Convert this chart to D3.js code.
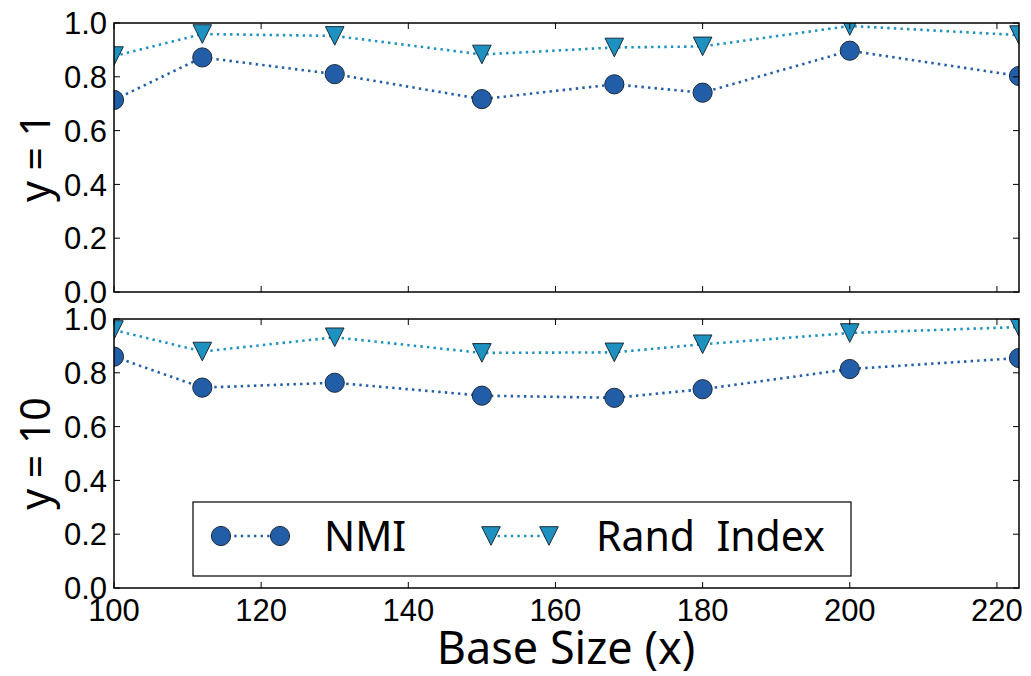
<!DOCTYPE html>
<html>
<head>
<meta charset="utf-8">
<script src="https://cdn.jsdelivr.net/npm/d3@7"></script>
<style>
  body { margin: 0; background: #fff; }
  svg { display: block; }
</style>
</head>
<body>
<svg id="chart" width="1031" height="676"></svg>
<script>
// data
const baseSizes = [100, 112, 130, 150, 168, 180, 200, 223];
const nmiY1   = [0.714, 0.872, 0.810, 0.717, 0.772, 0.741, 0.897, 0.803];
const randY1  = [0.877, 0.959, 0.952, 0.883, 0.909, 0.913, 0.989, 0.955];
const nmiY10  = [0.860, 0.745, 0.763, 0.715, 0.707, 0.739, 0.814, 0.855];
const randY10 = [0.959, 0.879, 0.932, 0.874, 0.876, 0.906, 0.948, 0.970];
const panelLabels = ["y = 1", "y = 10"];
const seriesNames = ["NMI", "Rand  Index"];
const xTicks = [100, 120, 140, 160, 180, 200, 220];
const yTicks = [0.0, 0.2, 0.4, 0.6, 0.8, 1.0];

const NMI_COLOR = "#225ea8";
const RAND_COLOR = "#1d91c0";
const EDGE = "#1d2b3a";
const TICK_FONT = "'Liberation Sans', Arial, sans-serif";
const LABEL_FONT = "'Noto Sans', sans-serif";

const left = 114, right = 1019;
const panels = [
    {top: 23, bottom: 292, nmi: nmiY1, rand: randY1, label: panelLabels[0]},
    {top: 319, bottom: 588, nmi: nmiY10, rand: randY10, label: panelLabels[1]}
];

const svg = d3.select("#chart");

const x = d3.scaleLinear().domain([100, 223]).range([left, right]);

const line = d3.line();

function drawMarker(g, kind, cx, cy) {
    if (kind === "circle") {
        g.append("circle")
            .attr("cx", cx).attr("cy", cy).attr("r", 9.6)
            .attr("fill", NMI_COLOR)
            .attr("stroke", EDGE).attr("stroke-width", 1);
    } else {
        // down-pointing triangle, about as wide as it is tall
        const s = 9.3;
        g.append("path")
            .attr("d", `M${cx - s},${cy - s}L${cx + s},${cy - s}L${cx},${cy + s}Z`)
            .attr("fill", RAND_COLOR)
            .attr("stroke", EDGE).attr("stroke-width", 1);
    }
}

panels.forEach((p, i) => {
    const y = d3.scaleLinear().domain([0, 1]).range([p.bottom, p.top]);
    const g = svg.append("g");

    const clipId = "clip" + i;
    svg.append("clipPath").attr("id", clipId)
        .append("rect")
        .attr("x", left).attr("y", p.top)
        .attr("width", right - left).attr("height", p.bottom - p.top);

    const plot = g.append("g").attr("clip-path", `url(#${clipId})`);

    const series = [
        {vals: p.nmi, color: NMI_COLOR, kind: "circle"},
        {vals: p.rand, color: RAND_COLOR, kind: "tri"}
    ];

    series.forEach(s => {
        const pts = baseSizes.map((b, j) => [x(b), y(s.vals[j])]);
        plot.append("path")
            .attr("d", line(pts))
            .attr("fill", "none")
            .attr("stroke", s.color)
            .attr("stroke-width", 2.6)
            .attr("stroke-dasharray", "2.4,4.2");
    });
    series.forEach(s => {
        baseSizes.forEach((b, j) => drawMarker(plot, s.kind, x(b), y(s.vals[j])));
    });

    // ticks point inward on all four sides
    const tickLen = 6;
    const axes = g.append("g").attr("stroke", "#000").attr("stroke-width", 1);
    xTicks.forEach(t => {
        axes.append("line").attr("x1", x(t)).attr("x2", x(t))
            .attr("y1", p.bottom).attr("y2", p.bottom - tickLen);
        axes.append("line").attr("x1", x(t)).attr("x2", x(t))
            .attr("y1", p.top).attr("y2", p.top + tickLen);
    });
    yTicks.forEach(t => {
        axes.append("line").attr("x1", left).attr("x2", left + tickLen)
            .attr("y1", y(t)).attr("y2", y(t));
        axes.append("line").attr("x1", right).attr("x2", right - tickLen)
            .attr("y1", y(t)).attr("y2", y(t));
    });

    g.append("rect")
        .attr("x", left).attr("y", p.top)
        .attr("width", right - left).attr("height", p.bottom - p.top)
        .attr("fill", "none").attr("stroke", "#000").attr("stroke-width", 1.5);

    g.append("g").selectAll("text")
        .data(yTicks)
        .join("text")
        .attr("x", left - 7)
        .attr("y", d => y(d))
        .attr("dy", "0.36em")
        .attr("text-anchor", "end")
        .attr("font-family", TICK_FONT)
        .attr("font-size", 31)
        .text(d => d3.format(".1f")(d));

    g.append("text")
        .attr("transform", `translate(50,${(p.top + p.bottom) / 2}) rotate(-90)`)
        .attr("text-anchor", "middle")
        .attr("font-family", LABEL_FONT)
        .attr("font-size", 41)
        .text(p.label);

    if (i === 1) {
        g.append("g").selectAll("text")
            .data(xTicks)
            .join("text")
            .attr("x", d => x(d))
            .attr("y", 621)
            .attr("text-anchor", "middle")
            .attr("font-family", TICK_FONT)
            .attr("font-size", 31)
            .text(d => d);
    }
});

svg.append("text")
    .attr("x", 566).attr("y", 664)
    .attr("text-anchor", "middle")
    .attr("font-family", LABEL_FONT)
    .attr("font-size", 45)
    .text("Base Size (x)");

// legend
const leg = svg.append("g");
leg.append("rect")
    .attr("x", 193).attr("y", 502).attr("width", 658).attr("height", 74)
    .attr("fill", "#fff").attr("stroke", "#000").attr("stroke-width", 1.2);

const legendItems = [
    {name: seriesNames[0], color: NMI_COLOR, kind: "circle", x0: 221, x1: 280, tx: 324},
    {name: seriesNames[1], color: RAND_COLOR, kind: "tri", x0: 491, x1: 549, tx: 596}
];
const ly = 536;
legendItems.forEach(it => {
    leg.append("line")
        .attr("x1", it.x0).attr("x2", it.x1).attr("y1", ly).attr("y2", ly)
        .attr("stroke", it.color).attr("stroke-width", 2.6)
        .attr("stroke-dasharray", "2.4,4.2");
    drawMarker(leg, it.kind, it.x0, ly);
    drawMarker(leg, it.kind, it.x1, ly);
    leg.append("text")
        .attr("x", it.tx).attr("y", ly + 15)
        .attr("font-family", LABEL_FONT)
        .attr("font-size", 41)
        .style("white-space", "pre")
        .text(it.name);
});
</script>
</body>
</html>
